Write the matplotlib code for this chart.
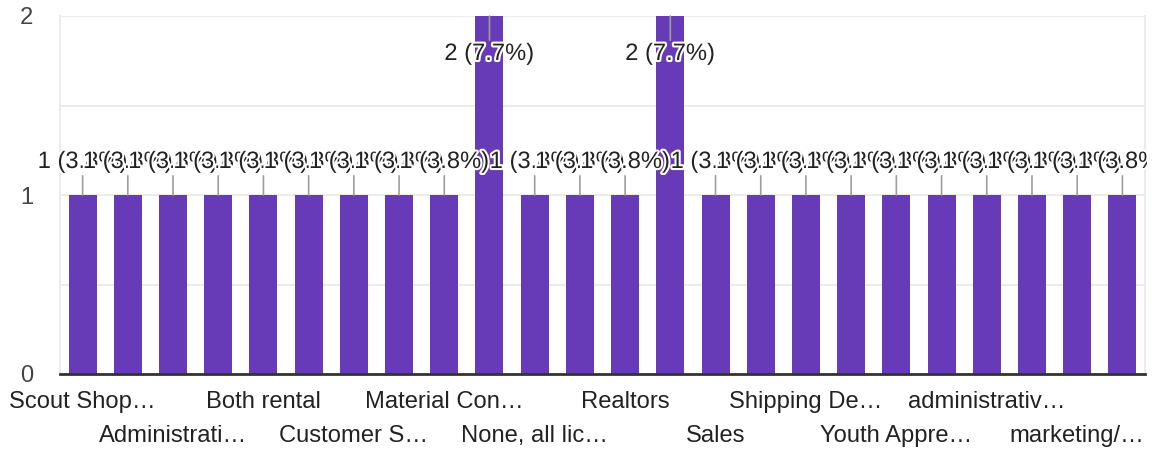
import matplotlib
matplotlib.use("Agg")
import matplotlib.pyplot as plt
import matplotlib.patheffects as pe
from matplotlib.transforms import Bbox, TransformedBbox

PURPLE = "#673ab7"
GRID = "#ebebeb"
INK = "#222222"
LEAD = "#9e9e9e"

# answers in the order shown; only every other label fits on the axis
labels = ["Scout Shop…", None, "Administrati…", None, "Both rental", None,
          "Customer S…", None, "Material Con…", None, "None, all lic…", None,
          "Realtors", None, "Sales", None, "Shipping De…", None,
          "Youth Appre…", None, "administrativ…", None, "marketing/…", None]
counts = [1, 1, 1, 1, 1, 1, 1, 1, 1, 2, 1, 1,
          1, 2, 1, 1, 1, 1, 1, 1, 1, 1, 1, 1]
y_ticks = [0, 1, 2]

total = sum(counts)
W, H = 1154, 454
plt.rcParams["font.family"] = ["Liberation Sans", "DejaVu Sans"]
FS = 17.1

fig = plt.figure(figsize=(W / 100, H / 100), dpi=100)
ax = fig.add_axes([60 / W, (H - 374) / H, (1145 - 60) / W, (374 - 16) / H])

x = list(range(len(counts)))
ax.bar(x, counts, width=0.62, color=PURPLE, zorder=2)

ax.set_xlim(-0.5, len(counts) - 0.5)
ax.set_ylim(0, 2)
ax.set_yticks(y_ticks)
ax.set_yticklabels([str(t) for t in y_ticks], fontsize=FS, color="#444444")
ax.set_yticks([0.5, 1.5], minor=True)
ax.grid(axis="y", which="both", color=GRID, lw=1.5, zorder=0)
ax.tick_params(axis="y", which="both", length=0, pad=19)

# two staggered rows of category labels
shown = [i for i, l in enumerate(labels) if l]
top_row = shown[0::2]
bot_row = shown[1::2]
ax.set_xticks(top_row)
ax.set_xticklabels([labels[i] for i in top_row], fontsize=FS, color=INK)
ax.set_xticks(bot_row, minor=True)
ax.set_xticklabels([labels[i] for i in bot_row], minor=True, fontsize=FS, color=INK)
ax.tick_params(axis="x", which="major", length=0, pad=12.5)
ax.tick_params(axis="x", which="minor", length=0, pad=36.5)

ax.spines["top"].set_visible(False)
for s in ("left", "right"):
    ax.spines[s].set_color(GRID)
    ax.spines[s].set_linewidth(1.5)
ax.spines["bottom"].set_color("#333333")
ax.spines["bottom"].set_linewidth(2)
ax.spines["bottom"].set_zorder(3)

clip = TransformedBbox(Bbox([[0, 0], [1147 / W, 1]]), fig.transFigure)
ymax = ax.get_ylim()[1]
for i, c in enumerate(counts):
    txt = f"{c} ({100 * c / total:.1f}%)"
    off = -38 if c >= ymax else 33
    a = ax.annotate(txt, xy=(i, c), xytext=(0, off), textcoords="offset pixels",
                    ha="center", va="center", fontsize=FS, color=INK,
                    zorder=5 + i, annotation_clip=False,
                    arrowprops=dict(arrowstyle="-", color=LEAD, lw=1.2,
                                    shrinkA=0, shrinkB=0))
    a.set_path_effects([pe.withStroke(linewidth=3, foreground="white")])
    a.set_clip_box(clip)
    a.set_clip_on(True)

fig.savefig("out.png", dpi=100)
